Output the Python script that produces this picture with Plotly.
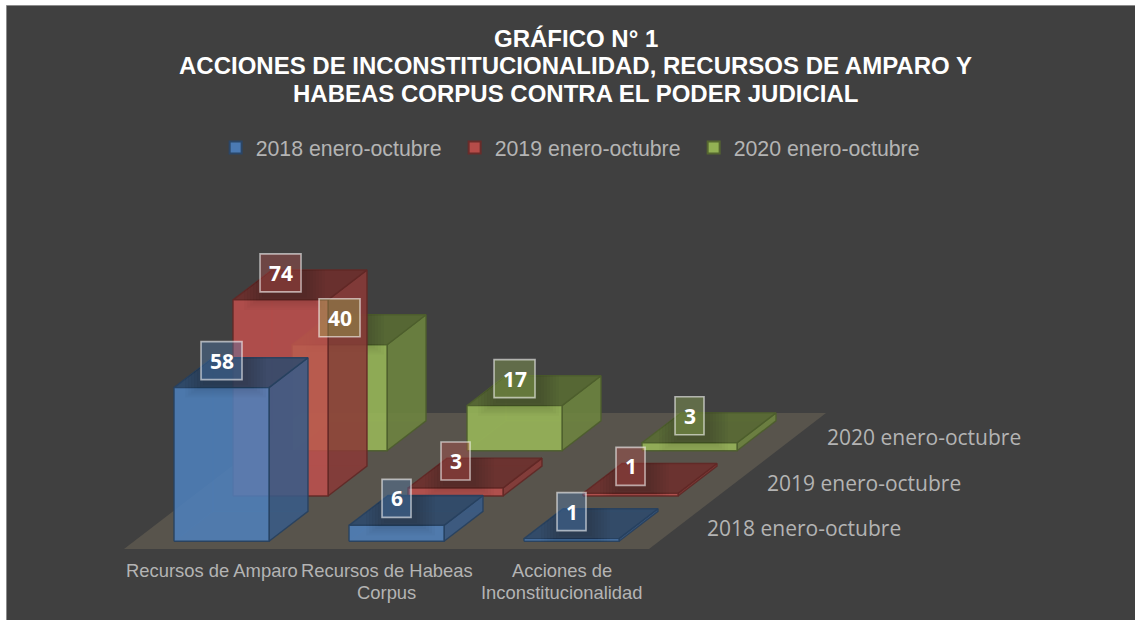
import plotly.graph_objects as go

categories = ["Recursos de Amparo", "Recursos de Habeas<br>Corpus", "Acciones de<br>Inconstitucionalidad"]
series_names = ["2018 enero-octubre", "2019 enero-octubre", "2020 enero-octubre"]
values_2018 = [58, 6, 1]
values_2019 = [74, 3, 1]
values_2020 = [40, 17, 3]
series_values = [values_2018, values_2019, values_2020]
front_rgb = [(79, 129, 189), (192, 80, 77), (155, 187, 89)]

# oblique projection of (category, depth, value) onto the page
ORIGIN_X, ORIGIN_Y = 124.0, 549.0
CAT_STEP = 175.0
DEPTH_DX, DEPTH_DY = 59.0, -45.3
VALUE_PX = 2.65
BAR_W = 95 / 175.0
BAR_D = 0.66
CAT_PAD = (1 - BAR_W) / 2
DEPTH_PAD = (1 - BAR_D) / 2


def project(c, d, v=0.0):
    return (ORIGIN_X + c * CAT_STEP + d * DEPTH_DX,
            ORIGIN_Y + d * DEPTH_DY - v * VALUE_PX)


def shade(rgb, k, a):
    return "rgba(%d,%d,%d,%.2f)" % (rgb[0] * k, rgb[1] * k, rgb[2] * k, a)


def face(fig, pts, fill, line, width=1.4):
    xs = [p[0] for p in pts] + [pts[0][0]]
    ys = [p[1] for p in pts] + [pts[0][1]]
    fig.add_trace(go.Scatter(x=xs, y=ys, mode="lines", fill="toself", fillcolor=fill,
                             line=dict(color=line, width=width), hoverinfo="skip",
                             showlegend=False))


def clip_to_rect(poly, x0, y0, x1, y1):
    """Sutherland-Hodgman clip of a polygon against an axis-aligned rectangle."""
    tests = [(lambda p: p[0] >= x0, 0, x0), (lambda p: p[0] <= x1, 0, x1),
             (lambda p: p[1] >= y0, 1, y0), (lambda p: p[1] <= y1, 1, y1)]
    for inside, axis, limit in tests:
        out = []
        for i, cur in enumerate(poly):
            prev = poly[i - 1]
            if inside(cur) != inside(prev):
                t = (limit - prev[axis]) / (cur[axis] - prev[axis])
                out.append((prev[0] + t * (cur[0] - prev[0]), prev[1] + t * (cur[1] - prev[1])))
            if inside(cur):
                out.append(cur)
        poly = out
        if not poly:
            break
    return poly


def half_width(val):
    return 20.5 if val >= 10 else 14.5


LABEL_RISE = 27
LABEL_HALF_H = 19

fig = go.Figure()

# floor
face(fig, [project(0, 0), project(3, 0), project(3, 3), project(0, 3)], "#58544c", "rgba(0,0,0,0)", 0)

labels = []
for s in (2, 1, 0):
    rgb = front_rgb[s]
    edge = shade(rgb, 0.5, 0.9)
    for c, val in enumerate(series_values[s]):
        c0, c1 = c + CAT_PAD, c + 1 - CAT_PAD
        d0, d1 = s + DEPTH_PAD, s + 1 - DEPTH_PAD
        # hidden faces seen through the translucent box
        face(fig, [project(c0, d1), project(c1, d1), project(c1, d1, val), project(c0, d1, val)],
             shade(rgb, 0.75, 0.12), shade(rgb, 0.7, 0.25), 1)
        face(fig, [project(c0, d0), project(c0, d1), project(c0, d1, val), project(c0, d0, val)],
             shade(rgb, 0.75, 0.12), shade(rgb, 0.7, 0.25), 1)
        # side, top, front
        side = [project(c1, d0), project(c1, d1), project(c1, d1, val), project(c1, d0, val)]
        top = [project(c0, d0, val), project(c1, d0, val), project(c1, d1, val), project(c0, d1, val)]
        front = [project(c0, d0), project(c1, d0), project(c1, d0, val), project(c0, d0, val)]
        face(fig, side, shade(rgb, 0.72, 0.85), edge)
        face(fig, top, shade(rgb, 0.58, 0.85), edge)
        face(fig, front, shade(rgb, 1.0, 0.85), edge)
        anchor = project(c + 0.5, d0, val)
        labels.append((anchor, val, rgb))
        # soft shadow cast by the data label, kept on the box it belongs to
        hw, cy = half_width(val), anchor[1] - LABEL_RISE
        for grow in range(2, 22, 3):
            for poly, alpha in ((top, 0.035), (front, 0.018)):
                part = clip_to_rect(poly, anchor[0] - hw - grow + 4, cy - LABEL_HALF_H,
                                    anchor[0] + hw + grow + 4, cy + LABEL_HALF_H + 4 + grow * 0.7)
                if len(part) >= 3:
                    face(fig, part, "rgba(20,20,20,%.3f)" % alpha, "rgba(0,0,0,0)", 0)

# legend entries
for name, rgb in zip(series_names, front_rgb):
    fig.add_trace(go.Scatter(x=[None], y=[None], mode="markers", name=name,
                             marker=dict(symbol="square", size=12, color=shade(rgb, 0.95, 1),
                                         line=dict(color=shade(rgb, 0.55, 1), width=2))))

annotations = []
shapes = [dict(type="rect", xref="x", yref="y", x0=6.5, y0=5.5, x1=1140, y1=625,
               fillcolor="#404040", line=dict(color="#8c8c8c", width=1), layer="below")]

# data labels
for (px, py), val, rgb in labels:
    half = half_width(val)
    cy = py - LABEL_RISE
    shapes.append(dict(type="rect", xref="x", yref="y", x0=px - half, x1=px + half,
                       y0=cy - LABEL_HALF_H, y1=cy + LABEL_HALF_H,
                       fillcolor=shade(rgb, 1.0, 0.36), line=dict(color="rgba(255,255,255,0.58)", width=1.6),
                       layer="above"))
    annotations.append(dict(x=px, y=cy, xref="x", yref="y", text="<b>%d</b>" % val, showarrow=False,
                            font=dict(family="Open Sans", size=21, color="white")))

# title
title_lines = ["GRÁFICO N° 1", "ACCIONES DE INCONSTITUCIONALIDAD, RECURSOS DE AMPARO Y",
               "HABEAS CORPUS CONTRA EL PODER JUDICIAL"]
for line, y in zip(title_lines, [38, 65, 93]):
    annotations.append(dict(x=575.5, y=y, xref="x", yref="y", text="<b>%s</b>" % line, showarrow=False,
                            font=dict(family="Liberation Sans", size=24, color="white")))

# category labels, one annotation per line for exact leading
for c, cat in enumerate(categories):
    for i, part in enumerate(cat.split("<br>")):
        annotations.append(dict(x=project(c + 0.5, 0)[0], y=570.5 + i * 22, xref="x", yref="y", text=part,
                                showarrow=False, yanchor="middle",
                                font=dict(family="Liberation Sans", size=18.4, color="#b4b4b4")))

# depth-axis labels
for s, name in enumerate(series_names):
    annotations.append(dict(x=705 + s * 60, y=528 - s * 45.5, xref="x", yref="y", text=name, showarrow=False,
                            xanchor="left", font=dict(family="Open Sans", size=21, color="#b4b4b4")))

fig.update_layout(
    width=1135, height=620, margin=dict(l=0, r=0, t=0, b=0),
    paper_bgcolor="white", plot_bgcolor="rgba(0,0,0,0)",
    xaxis=dict(range=[0, 1135], visible=False, fixedrange=True),
    yaxis=dict(range=[620, 0], visible=False, fixedrange=True),
    shapes=shapes, annotations=annotations,
    legend=dict(orientation="h", x=0.19, y=0.762, xanchor="left", yanchor="middle",
                font=dict(family="Liberation Sans", size=21.3, color="#b4b4b4"),
                bgcolor="rgba(0,0,0,0)", entrywidth=194, entrywidthmode="pixels", itemwidth=30),
)
fig.write_html("out.html", config={"displayModeBar": False},
               post_script="document.body.style.margin='0';document.body.style.overflow='hidden';")
